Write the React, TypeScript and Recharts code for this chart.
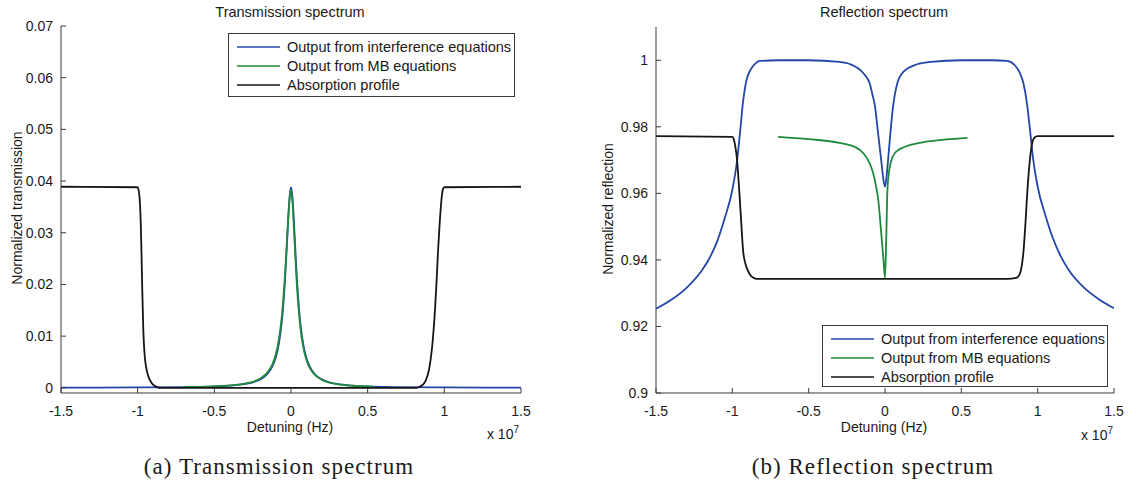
import React from 'react'
import { LineChart, Line, XAxis, YAxis, Legend } from 'recharts'

// detuning is in units of 1e7 Hz (axis shows "x 10^7")
const xTicks = [-1.5, -1, -0.5, 0, 0.5, 1, 1.5]
const transYTicks = [0, 0.01, 0.02, 0.03, 0.04, 0.05, 0.06, 0.07]
const reflYTicks = [0.9, 0.92, 0.94, 0.96, 0.98, 1]

const seriesNames = [
  'Output from interference equations',
  'Output from MB equations',
  'Absorption profile',
]
const colors = ['#2446a8', '#1f8a3c', '#151515']

// transmission: interference output
const transInterfX = [
  -1.5, -1.0, -0.7, -0.5, -0.4, -0.3, -0.25, -0.2, -0.15, -0.12, -0.1, -0.08, -0.06, -0.05, -0.04,
  -0.03, -0.02, -0.01, 0, 0.01, 0.02, 0.03, 0.04, 0.05, 0.06, 0.08, 0.1, 0.12, 0.15, 0.2, 0.25, 0.3,
  0.4, 0.5, 0.7, 1.0, 1.5,
]
const transInterfY = [
  0.00003, 0.00007, 0.00014, 0.00027, 0.00042, 0.00075, 0.00107, 0.00164, 0.00282, 0.00424,
  0.00582, 0.00838, 0.01276, 0.01605, 0.02035, 0.0257, 0.0316, 0.0367, 0.0388, 0.0367, 0.0316,
  0.0257, 0.02035, 0.01605, 0.01276, 0.00838, 0.00582, 0.00424, 0.00282, 0.00164, 0.00107,
  0.00075, 0.00042, 0.00027, 0.00014, 0.00007, 0.00003,
]

// transmission: Maxwell-Bloch output
const transMbX = [
  -0.7, -0.5, -0.4, -0.3, -0.25, -0.2, -0.15, -0.12, -0.1, -0.08, -0.06, -0.05, -0.04, -0.03, -0.02,
  -0.01, 0, 0.01, 0.02, 0.03, 0.04, 0.05, 0.06, 0.08, 0.1, 0.12, 0.15, 0.2, 0.25, 0.3, 0.4, 0.55,
]
const transMbY = [
  0.00016, 0.0003, 0.00046, 0.00082, 0.00117, 0.0018, 0.0031, 0.00465, 0.0064, 0.0092, 0.0138,
  0.0172, 0.0215, 0.0266, 0.0318, 0.0362, 0.0383, 0.0358, 0.0302, 0.0243, 0.0191, 0.0151, 0.012,
  0.0079, 0.0055, 0.004, 0.0027, 0.00158, 0.00103, 0.00073, 0.0004, 0.0002,
]

// transmission: absorption profile
const transAbsX = [
  -1.5, -1.0, -0.99, -0.98, -0.975, -0.97, -0.963, -0.955, -0.945, -0.93, -0.91, -0.89, -0.87, -0.85,
  0.82, 0.84, 0.86, 0.88, 0.9, 0.92, 0.94, 0.95, 0.96, 0.97, 0.98, 0.99, 1.0, 1.5,
]
const transAbsY = [
  0.0389, 0.0388, 0.0375, 0.032, 0.026, 0.019, 0.011, 0.0065, 0.004, 0.0022, 0.001, 0.0004,
  0.0001, 0, 0, 0.0002, 0.0006, 0.0015, 0.0035, 0.0078, 0.0155, 0.021, 0.027, 0.032, 0.036,
  0.0383, 0.0388, 0.0389,
]

// reflection: interference output
const reflInterfX = [
  -1.5, -1.4, -1.3, -1.2, -1.15, -1.1, -1.05, -1.0, -0.97, -0.95, -0.93, -0.91, -0.883, -0.85, -0.82,
  -0.7, -0.5, -0.3, -0.227, -0.14, -0.1, -0.084, -0.065, -0.05, -0.035, -0.02, -0.01, 0, 0.01, 0.02,
  0.035, 0.05, 0.08, 0.12, 0.21, 0.3, 0.5, 0.7, 0.8, 0.85, 0.88, 0.907, 0.93, 0.95, 0.97, 1.0, 1.05,
  1.1, 1.15, 1.2, 1.3, 1.4, 1.5,
]
const reflInterfY = [
  0.9253, 0.928, 0.9316, 0.9368, 0.9405, 0.9455, 0.9525, 0.961, 0.9695, 0.978, 0.9875, 0.9935,
  0.997, 0.999, 0.9998, 1.0, 1.0, 0.9995, 0.9988, 0.996, 0.993, 0.99, 0.986, 0.98, 0.974, 0.968,
  0.964, 0.962, 0.965, 0.97, 0.978, 0.985, 0.993, 0.9965, 0.9988, 0.9995, 1.0, 1.0, 0.9998, 0.9985,
  0.9965, 0.993, 0.987, 0.979, 0.9705, 0.962, 0.9535, 0.9465, 0.9412, 0.9372, 0.9318, 0.9282,
  0.9255,
]

// reflection: Maxwell-Bloch output
const reflMbX = [
  -0.7, -0.5, -0.3, -0.2, -0.14, -0.1, -0.077, -0.06, -0.044, -0.03, -0.02, -0.01, 0, 0.008, 0.015,
  0.025, 0.05, 0.08, 0.12, 0.21, 0.3, 0.4, 0.54,
]
const reflMbY = [
  0.977, 0.9763, 0.9752, 0.974, 0.972, 0.969, 0.966, 0.9625, 0.958, 0.951, 0.9455, 0.94, 0.9346,
  0.946, 0.96, 0.966, 0.971, 0.9728, 0.9738, 0.975, 0.9757, 0.9762, 0.9767,
]

// reflection: absorption profile
const reflAbsX = [
  -1.5, -1.0, -0.99, -0.98, -0.969, -0.955, -0.94, -0.93, -0.915, -0.9, -0.88, -0.86, -0.84, 0.8,
  0.86, 0.88, 0.895, 0.907, 0.92, 0.933, 0.95, 0.966, 0.98, 1.0, 1.5,
]
const reflAbsY = [
  0.9772, 0.977, 0.9762, 0.974, 0.97, 0.961, 0.95, 0.943, 0.939, 0.937, 0.9353, 0.9346, 0.9343,
  0.9343, 0.9346, 0.9355, 0.938, 0.9425, 0.951, 0.961, 0.9705, 0.9755, 0.9768, 0.9772, 0.9772,
]

const toPoints = (xs: number[], ys: number[]) => xs.map((x, i) => ({ x, y: ys[i] }))

const sans = '"Liberation Sans", Arial, sans-serif'
const serif = '"Liberation Serif", "DejaVu Serif", serif'
const ink = '#1a1a1a'
const axisColor = '#3a3a3a'

function LegendBox({ payload, width, height }: any) {
  // keep the entries in series order
  const rows = [...(payload || [])].sort(
    (a: any, b: any) => seriesNames.indexOf(a.value) - seriesNames.indexOf(b.value),
  )
  return (
    <div
      style={{
        width,
        height,
        boxSizing: 'border-box',
        border: `1px solid ${axisColor}`,
        background: '#fff',
        paddingTop: 3,
        fontFamily: sans,
        fontSize: 14.5,
        color: ink,
      }}
    >
      {rows.map((p: any) => (
        <div key={p.value} style={{ display: 'flex', alignItems: 'center', height: 19 }}>
          <svg width={52} height={19} style={{ flex: 'none' }}>
            <line x1={8} x2={51} y1={10} y2={10} stroke={p.color} strokeWidth={1.6} />
          </svg>
          <span style={{ marginLeft: 6, whiteSpace: 'nowrap' }}>{p.value}</span>
        </div>
      ))}
    </div>
  )
}

function Text({ left, top, children, style }: any) {
  return (
    <div
      style={{
        position: 'absolute',
        left,
        top,
        transform: 'translate(-50%, -50%)',
        whiteSpace: 'nowrap',
        fontFamily: sans,
        fontSize: 14,
        lineHeight: 1,
        color: ink,
        ...style,
      }}
    >
      {children}
    </div>
  )
}

interface PanelProps {
  left: number
  width: number
  axisWidth: number
  plotRight: number
  plotTop: number
  plotBottom: number
  yDomain: [number, number]
  yTicks: number[]
  series: { x: number; y: number }[][]
  legendPos: { left: number; top: number; width: number; height: number }
}

function Panel({
  left,
  width,
  axisWidth,
  plotRight,
  plotTop,
  plotBottom,
  yDomain,
  yTicks,
  series,
  legendPos,
}: PanelProps) {
  const height = 485
  const tickStyle = { fill: ink, fontSize: 14, fontFamily: sans }
  return (
    <div style={{ position: 'absolute', left, top: 0 }}>
      <LineChart
        width={width}
        height={height}
        margin={{ top: plotTop, right: left + width - plotRight, bottom: 0, left: 0 }}
      >
        <XAxis
          dataKey="x"
          type="number"
          domain={[-1.5, 1.5]}
          ticks={xTicks}
          allowDataOverflow
          height={height - plotBottom}
          tick={tickStyle}
          tickSize={-5}
          tickMargin={18}
          stroke={axisColor}
          tickFormatter={(v: number) => String(v)}
        />
        <YAxis
          type="number"
          domain={yDomain}
          ticks={yTicks}
          allowDataOverflow
          width={axisWidth}
          tick={tickStyle}
          tickSize={-5}
          tickMargin={13}
          stroke={axisColor}
          tickFormatter={(v: number) => String(v)}
        />
        {series.map((data, i) => (
          <Line
            key={seriesNames[i]}
            data={data}
            dataKey="y"
            name={seriesNames[i]}
            type="monotone"
            stroke={colors[i]}
            strokeWidth={1.8}
            dot={false}
            isAnimationActive={false}
          />
        ))}
        <Legend
          layout="vertical"
          align="center"
          verticalAlign="middle"
          wrapperStyle={{
            left: legendPos.left,
            top: legendPos.top,
            width: legendPos.width,
            height: legendPos.height,
          }}
          content={(props: any) => (
            <LegendBox {...props} width={legendPos.width} height={legendPos.height} />
          )}
        />
      </LineChart>
    </div>
  )
}

export default function App() {
  const caption = { fontFamily: serif, fontSize: 23, letterSpacing: 1.05 }
  return (
    <div
      style={{
        position: 'absolute',
        left: 0,
        top: 0,
        width: 1136,
        height: 485,
        background: '#fff',
        overflow: 'hidden',
      }}
    >
      <Panel
        left={0}
        width={560}
        axisWidth={61}
        plotRight={521}
        plotTop={26}
        plotBottom={393}
        yDomain={[-0.001, 0.07]}
        yTicks={transYTicks}
        series={[
          toPoints(transInterfX, transInterfY),
          toPoints(transMbX, transMbY),
          toPoints(transAbsX, transAbsY),
        ]}
        legendPos={{ left: 228, top: 33, width: 287, height: 64 }}
      />
      <Panel
        left={590}
        width={546}
        axisWidth={66}
        plotRight={1114}
        plotTop={27}
        plotBottom={393}
        yDomain={[0.9, 1.01]}
        yTicks={reflYTicks}
        series={[
          toPoints(reflInterfX, reflInterfY),
          toPoints(reflMbX, reflMbY),
          toPoints(reflAbsX, reflAbsY),
        ]}
        legendPos={{ left: 232, top: 325, width: 286, height: 62 }}
      />

      <Text left={290} top={12} style={{ fontSize: 14.5 }}>Transmission spectrum</Text>
      <Text left={884} top={12} style={{ fontSize: 14.5 }}>Reflection spectrum</Text>

      <Text left={17} top={208} style={{ transform: 'translate(-50%, -50%) rotate(-90deg)' }}>
        Normalized transmission
      </Text>
      <Text left={608} top={209} style={{ transform: 'translate(-50%, -50%) rotate(-90deg)' }}>
        Normalized reflection
      </Text>

      <Text left={290} top={427}>Detuning (Hz)</Text>
      <Text left={884} top={427}>Detuning (Hz)</Text>

      <Text left={503} top={433}>
        x 10<sup style={{ fontSize: 10 }}>7</sup>
      </Text>
      <Text left={1097} top={434}>
        x 10<sup style={{ fontSize: 10 }}>7</sup>
      </Text>

      <Text left={279} top={466} style={caption}>
        (a) Transmission spectrum
      </Text>
      <Text left={873} top={466} style={caption}>
        (b) Reflection spectrum
      </Text>
    </div>
  )
}
